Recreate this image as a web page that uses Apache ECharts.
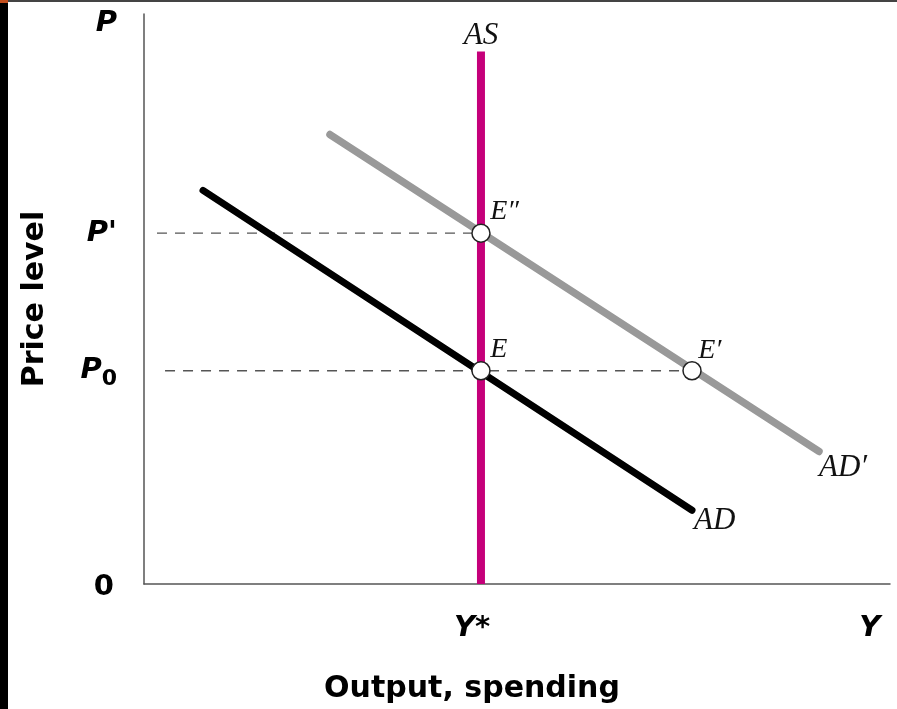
<!DOCTYPE html>
<html><head><meta charset="utf-8">
<script src="https://cdn.jsdelivr.net/npm/echarts@6/dist/echarts.min.js"></script>
<style>html,body{margin:0;padding:0;background:#fff}#c{width:897px;height:709px}</style>
</head><body><div id="c"></div>
<script>
// ---- data ----
const xTickValues = [45.17, 97.3];
const xTickLabels = ['{ys|Y*}', '{p|Y}'];
const yTickValues = [0, 37.41, 61.54, 100];
const yTickLabels = ['{z|0}', '{p|P}{sub|0}', "{p|P'}", '{ptop|P}'];

const asX = [45.17, 45.17];
const asY = [0, 93.4];
const adX = [7.91, 73.46];
const adY = [69.06, 12.94];
const adPrimeX = [24.93, 90.48];
const adPrimeY = [78.85, 23.25];

const eqNames = ['E', 'E\u2033', 'E\u2032'];
const eqX = [45.17, 45.17, 73.46];
const eqY = [37.41, 61.54, 37.41];

const guideP0X = [2.82, 73.46];
const guideP0Y = [37.41, 37.41];
const guidePPrimeX = [1.74, 45.17];
const guidePPrimeY = [61.54, 61.54];

const curveNames = ['AS', 'AD', "AD\u2032"];

// ---- chart ----
const zip = (xs, ys) => xs.map((x, i) => [x, ys[i]]);
const sansBold = 'DejaVu Sans';
const serif = 'Liberation Serif';

function endLabelData(xs, ys, labelCfg) {
  const d = zip(xs, ys).map(v => ({ value: v }));
  d[d.length - 1].label = Object.assign({ show: true }, labelCfg);
  return d;
}
const curveLabelStyle = { fontFamily: serif, fontStyle: 'italic', fontSize: 31, color: '#111' };
const tickStyle = { fontFamily: sansBold, fontWeight: 'bold', fontStyle: 'italic', fontSize: 29, color: '#000' };

const chart = echarts.init(document.getElementById('c'));
chart.setOption({
  animation: false,
  backgroundColor: '#fff',
  grid: { left: 144, right: 7, top: 14, bottom: 123 },
  xAxis: {
    type: 'value', min: 0, max: 100,
    splitLine: { show: false },
    axisTick: { show: false },
    axisLine: { show: true, onZero: false, lineStyle: { color: '#555', width: 1.5 } },
    axisLabel: {
      customValues: xTickValues,
      formatter: v => xTickLabels[xTickValues.indexOf(v)],
      margin: 30,
      rich: {
        p: Object.assign({}, tickStyle),
        ys: Object.assign({ padding: [0, 18, 0, 0] }, tickStyle)
      }
    },
    name: 'Output, spending', nameLocation: 'middle', nameGap: 90,
    nameTextStyle: { fontFamily: sansBold, fontWeight: 'bold', fontSize: 30, color: '#000', padding: [0, 90, 0, 0] }
  },
  yAxis: {
    type: 'value', min: 0, max: 100,
    splitLine: { show: false },
    axisTick: { show: false },
    axisLine: { show: true, onZero: false, lineStyle: { color: '#555', width: 1.5 } },
    axisLabel: {
      customValues: yTickValues,
      formatter: v => yTickLabels[yTickValues.indexOf(v)],
      margin: 27,
      rich: {
        p: Object.assign({}, tickStyle),
        ptop: Object.assign({ padding: [18, 0, 0, 0] }, tickStyle),
        z: Object.assign({}, tickStyle, { fontStyle: 'normal', padding: [6, 3, 0, 0] }),
        sub: { fontFamily: sansBold, fontWeight: 'bold', fontSize: 22, color: '#000', padding: [18, 0, 0, 0] }
      }
    },
    name: 'Price level', nameLocation: 'middle', nameGap: 94, nameRotate: 90,
    nameTextStyle: { fontFamily: sansBold, fontWeight: 'bold', fontSize: 30, color: '#000' }
  },
  series: [
    { type: 'line', data: zip(guidePPrimeX, guidePPrimeY), showSymbol: false, silent: true,
      lineStyle: { color: '#555', width: 1.3, type: [10, 8] }, z: 1 },
    { type: 'line', data: zip(guideP0X, guideP0Y), showSymbol: false, silent: true,
      lineStyle: { color: '#555', width: 1.3, type: [10, 8] }, z: 1 },
    { type: 'line', name: curveNames[2], symbol: 'circle', symbolSize: 0, showSymbol: true,
      data: endLabelData(adPrimeX, adPrimeY, Object.assign({ formatter: curveNames[2], position: [0, 16], align: 'left', verticalAlign: 'middle' }, curveLabelStyle)),
      lineStyle: { color: '#999', width: 7.5, cap: 'round' }, z: 2 },
    { type: 'line', name: curveNames[1], symbol: 'circle', symbolSize: 0, showSymbol: true,
      data: endLabelData(adX, adY, Object.assign({ formatter: curveNames[1], position: [2, 11], align: 'left', verticalAlign: 'middle' }, curveLabelStyle)),
      lineStyle: { color: '#000', width: 7, cap: 'round' }, z: 3 },
    { type: 'line', name: curveNames[0], symbol: 'circle', symbolSize: 0, showSymbol: true,
      data: endLabelData(asX, asY, Object.assign({ formatter: curveNames[0], position: 'top', distance: 0 }, curveLabelStyle)),
      lineStyle: { color: '#c5007a', width: 8, cap: 'butt' }, z: 4 },
    { type: 'scatter', symbol: 'circle', symbolSize: 18,
      itemStyle: { color: '#fff', borderColor: '#222', borderWidth: 1.5, opacity: 1 },
      data: zip(eqX, eqY).map((v, i) => ({
        value: v,
        label: {
          show: true, formatter: eqNames[i],
          position: [[19, -11], [19, -12], [16, -10]][i],
          align: 'left', verticalAlign: 'middle',
          fontFamily: serif, fontStyle: 'italic', fontSize: 28, color: '#111'
        }
      })),
      z: 5 }
  ],
  graphic: [
    { type: 'rect', shape: { x: 0, y: 0, width: 8, height: 709 }, style: { fill: '#000' } },
    { type: 'rect', shape: { x: 8, y: 0, width: 889, height: 2 }, style: { fill: '#444' } },
    { type: 'rect', shape: { x: 0, y: 0, width: 8, height: 3 }, style: { fill: '#c4501f' } }
  ]
});
</script></body></html>
